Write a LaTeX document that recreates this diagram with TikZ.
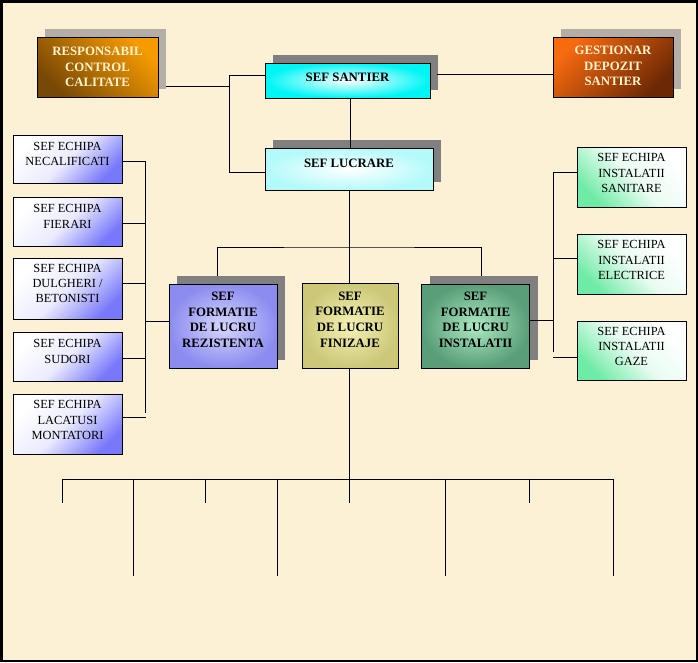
\documentclass[tikz,border=0pt]{standalone}
\usepackage{fontspec}
\setmainfont{Liberation Serif}
\pgfdeclarelayer{bg}
\pgfdeclarelayer{shad}
\pgfsetlayers{bg,shad,main}
\definecolor{paper}{RGB}{252,241,213}
\definecolor{shlight}{RGB}{181,174,166}
\definecolor{shdark}{RGB}{128,128,128}
\definecolor{cream}{RGB}{255,244,204}
\definecolor{orgA}{RGB}{245,155,0}
\definecolor{brnA}{RGB}{120,72,6}
\definecolor{orgB}{RGB}{246,106,16}
\definecolor{brnB}{RGB}{108,40,4}
\definecolor{cyanA}{RGB}{0,245,245}
\definecolor{cyanB}{RGB}{180,250,250}
\definecolor{perA}{RGB}{140,140,240}
\definecolor{perB}{RGB}{215,215,255}
\definecolor{oliA}{RGB}{204,200,120}
\definecolor{oliB}{RGB}{244,242,182}
\definecolor{grnA}{RGB}{88,158,120}
\definecolor{grnB}{RGB}{172,234,194}
\definecolor{blueL}{RGB}{120,120,250}
\definecolor{greenL}{RGB}{110,235,165}
\newcommand\boxshadow[2]{%
  \begin{pgfonlayer}{shad}
  \fill[#2] ([shift={(8pt,8pt)}]#1.south west) rectangle ([shift={(8pt,8pt)}]#1.north east);
  \end{pgfonlayer}}
\begin{document}
\begin{tikzpicture}[x=1pt,y=-1pt,
  box/.style={draw=black,line width=0.8pt,inner sep=0pt,outer sep=0pt},
  wh/.style 2 args={minimum width=#1pt,minimum height=#2pt},
  big/.style={font=\fontsize{12.8}{15.6}\selectfont\bfseries,align=center,inner sep=0pt},
  bigw/.style={big,text=cream},
  small/.style={font=\fontsize{12.4}{15.3}\selectfont,align=center,inner sep=0pt},
  conn/.style={draw=black,line width=1pt},
  respshade/.style={top color=orgA,bottom color=brnA,shading angle=-45},
  gestshade/.style={top color=orgB,bottom color=brnB,shading angle=45},
  lshade/.style={top color=white,bottom color=blueL,middle color=white!85!blueL,shading angle=45},
  rshade/.style={top color=white,bottom color=greenL,middle color=white!85!greenL,shading angle=-45},
]
\useasboundingbox (0,0) rectangle (698,662);
\begin{pgfonlayer}{bg}
\fill[paper] (0,0) rectangle (698,662);
\end{pgfonlayer}

% top row
\node[box,respshade,wh={121}{60}] (resp) at (97.5,67) {};
\node[bigw] (respT) at (resp.center) {RESPONSABIL\\CONTROL\\CALITATE};
\boxshadow{resp}{shlight}
\node[box,gestshade,wh={120}{60}] (gest) at (613,67) {};
\node[bigw] (gestT) at ([yshift=1pt]gest.center) {GESTIONAR\\DEPOZIT\\SANTIER};
\boxshadow{gest}{shlight}
\node[box,inner color=white,outer color=cyanA,wh={165}{35}] (santier) at (347.5,80.5) {};
\node[big] (santierT) at ([yshift=3pt]santier.center) {SEF SANTIER};
\boxshadow{santier}{shdark}
\node[box,inner color=white,outer color=cyanB,wh={168}{42}] (lucrare) at (349,169) {};
\node[big] (lucrareT) at ([yshift=6pt]lucrare.center) {SEF LUCRARE};
\boxshadow{lucrare}{shdark}

% middle row
\node[box,inner color=perB,outer color=perA,wh={108}{84}] (rez) at (223,326) {};
\node[big] (rezT) at ([yshift=6pt]rez.center) {SEF\\FORMATIE\\DE LUCRU\\REZISTENTA};
\boxshadow{rez}{shdark}
\node[box,inner color=oliB,outer color=oliA,wh={96}{85}] (fin) at (350,325.5) {};
\node[big] (finT) at ([yshift=6pt]fin.center) {SEF\\FORMATIE\\DE LUCRU\\FINIZAJE};
\node[box,inner color=grnB,outer color=grnA,wh={108}{84}] (inst) at (475.5,326) {};
\node[big] (instT) at ([yshift=6pt]inst.center) {SEF\\FORMATIE\\DE LUCRU\\INSTALATII};
\boxshadow{inst}{shdark}

% left column
\node[box,lshade,wh={109}{48}] (nec) at (67.5,159) {};
\node[small] (necT) at ([yshift=5pt]nec.center) {SEF ECHIPA\\NECALIFICATI};
\node[box,lshade,wh={109}{49}] (fie) at (67.5,221.5) {};
\node[small] (fieT) at ([yshift=5pt]fie.center) {SEF ECHIPA\\FIERARI};
\node[box,lshade,wh={109}{61}] (dul) at (67.5,288.5) {};
\node[small] (dulT) at ([yshift=5pt]dul.center) {SEF ECHIPA\\DULGHERI /\\BETONISTI};
\node[box,lshade,wh={109}{49}] (sud) at (67.5,356.5) {};
\node[small] (sudT) at ([yshift=5pt]sud.center) {SEF ECHIPA\\SUDORI};
\node[box,lshade,wh={109}{60}] (lac) at (67.5,424) {};
\node[small] (lacT) at ([yshift=4pt]lac.center) {SEF ECHIPA\\LACATUSI\\MONTATORI};

% right column
\node[box,rshade,wh={109}{60}] (san) at (631.5,177) {};
\node[small] (sanT) at ([yshift=4pt]san.center) {SEF ECHIPA\\INSTALATII\\SANITARE};
\node[box,rshade,wh={109}{60}] (ele) at (631.5,264) {};
\node[small] (eleT) at ([yshift=4pt]ele.center) {SEF ECHIPA\\INSTALATII\\ELECTRICE};
\node[box,rshade,wh={109}{59}] (gaz) at (631.5,350.5) {};
\node[small] (gazT) at ([yshift=4pt]gaz.center) {SEF ECHIPA\\INSTALATII\\GAZE};

% connectors top
\coordinate (qa) at (229,75);
\coordinate (qb) at (229,172);
\draw[conn] ([xshift=8pt]resp.east |- 0,86) -- (qa |- 0,86);
\draw[conn] (santier.west |- qa) -- (qa) -- (qb) -- (lucrare.west |- qb);
\draw[conn] ([xshift=7pt]santier.east |- 0,74) -- (gest.west |- 0,74);
\draw[conn] (santier.south -| 350,0) -- (lucrare.north -| 350,0);

% connectors middle
\coordinate (m) at (349,247);
\draw[conn] (lucrare.south -| m) -- (m);
\draw[conn] ([shift={(-6pt,8pt)}]rez.north) |- (m) -| ([shift={(6pt,8pt)}]inst.north);
\draw[conn] (m) -- (fin.north -| m);

% left bus
\coordinate (lt) at (145,161);
\coordinate (lb) at (145,413);
\draw[conn] (lt) -- (lb);
\draw[conn] (nec.east |- lt) -- (lt);
\draw[conn] (fie.east |- 0,223) -- (145,223);
\draw[conn] (dul.east |- 0,283) -- (145,283);
\draw[conn] (sud.east |- 0,358) -- (145,358);
\draw[conn] (lac.east |- 0,417) -- (146,417);
\draw[conn] (145,321) -- (rez.west |- 0,321);

% right bus
\coordinate (rt) at (553,172);
\coordinate (rb) at (553,352);
\draw[conn] (rt) -- (rb);
\draw[conn] (rt) -- (san.west |- rt);
\draw[conn] (553,258) -- (ele.west |- 0,258);
\draw[conn] (inst.east |- 0,320) -- (553,320);
\draw[conn] (553,357) -- (gaz.west |- 0,357);

% bottom bus
\coordinate (bm) at (349,479);
\draw[conn] (fin.south -| bm) -- (bm);
\coordinate (bl) at (62,479);
\coordinate (br) at (613,479);
\draw[conn] (bl) -- (br);
\foreach \x in {62,205,349,529} {\draw[conn] (\x,479) -- (\x,503);}
\foreach \x in {133,277,445,613} {\draw[conn] (\x,479) -- (\x,576);}

% frame
\draw[line width=2.5pt] (1.25,1.25) rectangle (696.75,660.75);
\end{tikzpicture}
\end{document}
